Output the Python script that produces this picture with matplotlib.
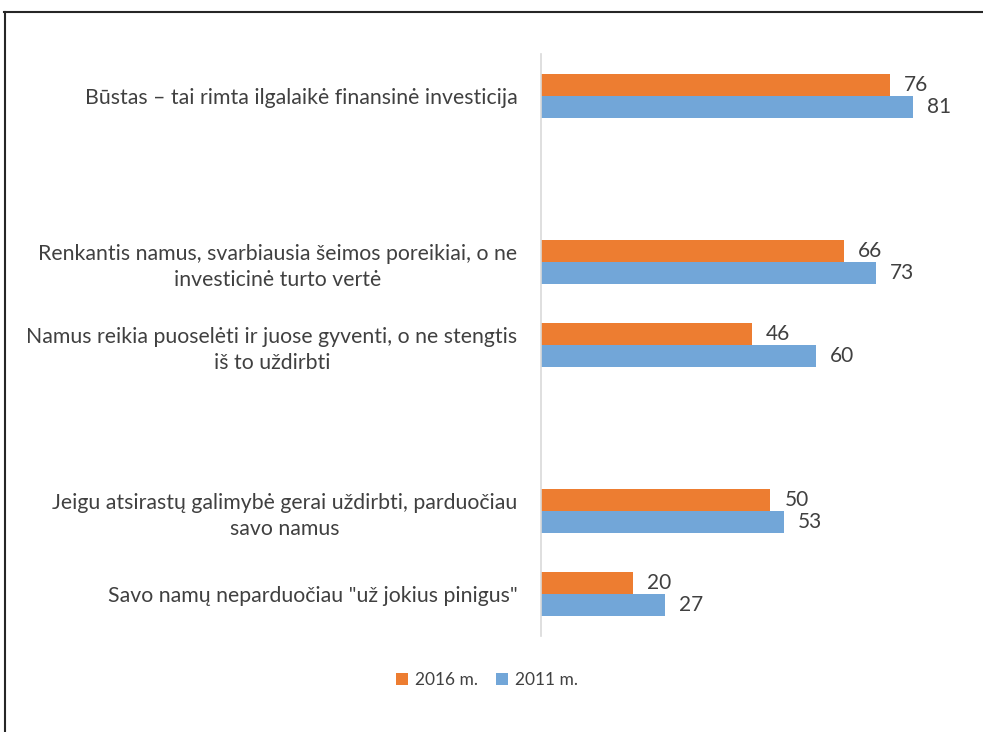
import numpy as np
import matplotlib.pyplot as plt
from matplotlib.lines import Line2D

plt.rcParams['font.family'] = ['Lato', 'DejaVu Sans']

# survey statements, top to bottom; empty rows leave a gap between groups
labels = [
    "Būstas – tai rimta ilgalaikė finansinė investicija",
    "",
    "Renkantis namus, svarbiausia šeimos poreikiai, o ne\ninvesticinė turto vertė",
    "Namus reikia puoselėti ir juose gyventi, o ne stengtis\niš to uždirbti",
    "",
    "Jeigu atsirastų galimybė gerai uždirbti, parduočiau\nsavo namus",
    "Savo namų neparduočiau \"už jokius pinigus\"",
]
v2016 = [76, None, 66, 46, None, 50, 20]
v2011 = [81, None, 73, 60, None, 53, 27]

c2016 = '#ED7D31'
c2011 = '#72A6D8'
txt = '#404040'

fig = plt.figure(figsize=(9.83, 7.32), dpi=100)
ax = fig.add_axes([541 / 983, 96.5 / 732, 413 / 983, 581 / 732])

pos = np.arange(len(labels))
h = 0.265
a = np.array([np.nan if v is None else v for v in v2016], dtype=float)
b = np.array([np.nan if v is None else v for v in v2011], dtype=float)
ax.barh(pos - h / 2, np.nan_to_num(a), height=h, color=c2016, label='2016 m.')
ax.barh(pos + h / 2, np.nan_to_num(b), height=h, color=c2011, label='2011 m.')

for y, v in zip(pos - h / 2, a):
    if not np.isnan(v):
        ax.annotate(f'{v:.0f}', (v, y), xytext=(10, 0), textcoords='offset points',
                    ha='left', va='center', fontsize=15, color=txt)
for y, v in zip(pos + h / 2, b):
    if not np.isnan(v):
        ax.annotate(f'{v:.0f}', (v, y), xytext=(10, 0), textcoords='offset points',
                    ha='left', va='center', fontsize=15, color=txt)

ax.set_xlim(0, 90)
ax.set_ylim(len(labels) - 0.5, -0.5)
ax.set_yticks(pos)
ax.set_yticklabels(labels, fontsize=15.3, color=txt, multialignment='center',
                   linespacing=1.35)
ax.tick_params(axis='y', length=0, pad=17)
ax.set_xticks([])
for s in ['top', 'right', 'bottom']:
    ax.spines[s].set_visible(False)
ax.spines['left'].set_color('#D9D9D9')
ax.spines['left'].set_linewidth(1.2)

leg = fig.legend(loc='center', bbox_to_anchor=(487 / 983, 1 - 680 / 732), ncol=2,
                 frameon=False, fontsize=12.5, handlelength=0.7, handleheight=0.7,
                 handletextpad=0.4, columnspacing=1.0)
for t in leg.get_texts():
    t.set_color(txt)

# outer frame, only the top and left edges
fig.add_artist(Line2D([4 / 983, 1], [1 - 12 / 732, 1 - 12 / 732], color='#262626', lw=1.5,
                      transform=fig.transFigure))
fig.add_artist(Line2D([5 / 983, 5 / 983], [0, 1 - 12 / 732], color='#262626', lw=1.5,
                      transform=fig.transFigure))

fig.savefig('out.png', dpi=100)
